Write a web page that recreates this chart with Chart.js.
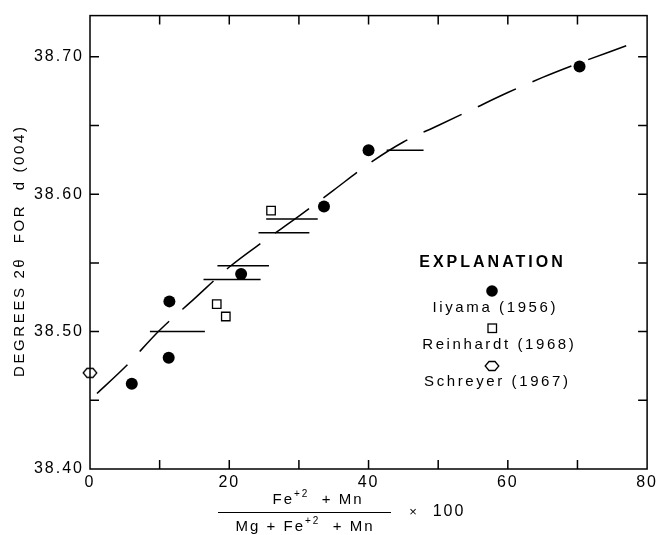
<!DOCTYPE html>
<html>
<head>
<meta charset="utf-8">
<script src="https://cdn.jsdelivr.net/npm/chart.js@4.4.1/dist/chart.umd.min.js"></script>
<style>
  html, body { margin: 0; padding: 0; background: #fff; }
</style>
</head>
<body>
<canvas id="chart" width="660" height="535"></canvas>
<script>
const FONT = "'Liberation Sans', Arial, Helvetica, sans-serif";

// Iiyama (1956) - filled circles
const iiyamaX = [6, 11.3, 11.4, 21.7, 33.6, 40, 70.3];
const iiyamaY = [38.462, 38.481, 38.522, 38.542, 38.591, 38.632, 38.693];
// Reinhardt (1968) - open squares
const reinX = [18.2, 19.5, 26];
const reinY = [38.520, 38.511, 38.588];
// Schreyer (1967) - open hexagon
const schrX = [0];
const schrY = [38.470];
// horizontal range bars
const barY = [38.500, 38.538, 38.548, 38.572, 38.582, 38.632];
const barXmin = [8.6, 16.3, 18.3, 24.2, 25.3, 42.6];
const barXmax = [16.5, 24.5, 25.7, 31.5, 32.7, 47.9];
// dashed curve
const curveX = [1, 5, 10, 15, 20, 25, 30, 35, 40, 45, 50, 55, 60, 65, 70, 77];
const curveY = [38.455, 38.474, 38.501, 38.524, 38.547, 38.566, 38.584, 38.603, 38.622, 38.638, 38.650, 38.662, 38.674, 38.685, 38.695, 38.708];
// labelled ticks
const xTicks = [0, 20, 40, 60, 80];
const yTicks = [38.40, 38.50, 38.60, 38.70];

const pts = (xs, ys) => xs.map((x, i) => ({ x, y: ys[i] }));

function hexImage() {
  const c = document.createElement('canvas');
  c.width = 16; c.height = 12;
  const g = c.getContext('2d');
  g.lineWidth = 1.3;
  g.strokeStyle = '#000';
  g.fillStyle = '#fff';
  g.beginPath();
  g.moveTo(1.2, 6);
  g.lineTo(5, 1.5);
  g.lineTo(11, 1.5);
  g.lineTo(14.8, 6);
  g.lineTo(11, 10.5);
  g.lineTo(5, 10.5);
  g.closePath();
  g.fill();
  g.stroke();
  return c;
}
const hex = hexImage();

// draw a run of text pieces, centred on cx
function drawParts(ctx, parts, cx, y, sp) {
  ctx.letterSpacing = sp + 'px';
  ctx.textAlign = 'left';
  ctx.textBaseline = 'middle';
  let total = 0;
  parts.forEach(p => {
    ctx.font = (p.bold ? 'bold ' : '') + p.size + 'px ' + FONT;
    p.w = ctx.measureText(p.t).width;
    total += p.w;
  });
  let x = cx - (total - sp) / 2;
  parts.forEach(p => {
    ctx.font = (p.bold ? 'bold ' : '') + p.size + 'px ' + FONT;
    ctx.fillText(p.t, x, y + (p.dy || 0));
    x += p.w;
  });
}

const framePlugin = {
  id: 'frame',
  beforeDraw(chart) {
    chart.ctx.letterSpacing = '2px';
  },
  afterDraw(chart) {
    const ctx = chart.ctx;
    const { left, right, top, bottom } = chart.chartArea;
    const xs = chart.scales.x, ys = chart.scales.y;
    ctx.save();
    ctx.strokeStyle = '#000';
    ctx.fillStyle = '#000';
    ctx.lineWidth = 1.5;
    ctx.strokeRect(left, top, right - left, bottom - top);

    // inward ticks
    const tl = 9;
    ctx.beginPath();
    xs.ticks.forEach(t => {
      const px = xs.getPixelForValue(t.value);
      if (px <= left + 1 || px >= right - 1) return;
      ctx.moveTo(px, bottom); ctx.lineTo(px, bottom - tl);
      ctx.moveTo(px, top); ctx.lineTo(px, top + tl);
    });
    ys.ticks.forEach(t => {
      const py = ys.getPixelForValue(t.value);
      if (py >= bottom - 1 || py <= top + 1) return;
      ctx.moveTo(left, py); ctx.lineTo(left + tl, py);
      ctx.moveTo(right, py); ctx.lineTo(right - tl, py);
    });
    ctx.stroke();

    // y axis title
    ctx.save();
    ctx.translate(20, 252);
    ctx.rotate(-Math.PI / 2);
    drawParts(ctx, [{ t: 'DEGREES 2θ  FOR  d (004)', size: 15 }], 0, 0, 2.6);
    ctx.restore();

    // x axis title (fraction)
    drawParts(ctx, [
      { t: 'Fe', size: 15 },
      { t: '+2', size: 10, dy: -6 },
      { t: '  + Mn', size: 15 }
    ], 317, 500, 2);
    ctx.lineWidth = 1;
    ctx.beginPath();
    ctx.moveTo(218, 512.5); ctx.lineTo(391, 512.5);
    ctx.stroke();
    drawParts(ctx, [
      { t: 'Mg + Fe', size: 15 },
      { t: '+2', size: 10, dy: -6 },
      { t: '  + Mn', size: 15 }
    ], 304, 527, 2);
    drawParts(ctx, [{ t: '×', size: 13 }], 413, 512, 0);
    drawParts(ctx, [{ t: '100', size: 16 }], 448, 512, 2);

    // explanation
    drawParts(ctx, [{ t: 'EXPLANATION', size: 16, bold: true }], 491, 263, 3);
    ctx.beginPath();
    ctx.arc(492, 291, 5.8, 0, Math.PI * 2);
    ctx.fill();
    drawParts(ctx, [{ t: 'Iiyama (1956)', size: 15 }], 494, 308, 2.6);
    ctx.lineWidth = 1.3;
    ctx.fillStyle = '#fff';
    ctx.fillRect(488, 324, 8.5, 8.5);
    ctx.strokeRect(488, 324, 8.5, 8.5);
    ctx.fillStyle = '#000';
    drawParts(ctx, [{ t: 'Reinhardt (1968)', size: 15 }], 498, 345, 2.6);
    ctx.drawImage(hex, 484, 360);
    drawParts(ctx, [{ t: 'Schreyer (1967)', size: 15 }], 496, 382, 2.6);

    ctx.letterSpacing = '0px';
    ctx.restore();
  }
};

const datasets = [
  {
    label: 'Iiyama (1956)',
    data: pts(iiyamaX, iiyamaY),
    pointStyle: 'circle',
    pointRadius: 6,
    backgroundColor: '#000',
    borderColor: '#000',
    borderWidth: 0,
    order: 0
  },
  {
    label: 'Reinhardt (1968)',
    data: pts(reinX, reinY),
    pointStyle: 'rect',
    pointRadius: 6,
    backgroundColor: '#fff',
    borderColor: '#000',
    borderWidth: 1.3,
    order: 0
  },
  {
    label: 'Schreyer (1967)',
    data: pts(schrX, schrY),
    pointStyle: hex,
    order: 0
  },
  ...barY.map((y, i) => ({
    type: 'line',
    label: 'range ' + i,
    data: [{ x: barXmin[i], y }, { x: barXmax[i], y }],
    showLine: true,
    borderColor: '#000',
    borderWidth: 1.5,
    pointRadius: 0,
    order: 1
  })),
  {
    type: 'line',
    label: 'curve',
    data: pts(curveX, curveY),
    showLine: true,
    borderColor: '#000',
    borderWidth: 1.5,
    borderDash: [42, 18],
    pointRadius: 0,
    cubicInterpolationMode: 'monotone',
    order: 2
  }
];

new Chart(document.getElementById('chart').getContext('2d'), {
  type: 'scatter',
  data: { datasets },
  options: {
    responsive: false,
    animation: false,
    clip: false,
    layout: { padding: { left: 0, top: 12, right: 10, bottom: 0 } },
    plugins: { legend: { display: false }, tooltip: { enabled: false } },
    scales: {
      x: {
        type: 'linear',
        min: 0,
        max: 80,
        afterFit: s => { s.height = 66; },
        grid: { display: false, drawTicks: false },
        border: { display: false },
        ticks: {
          stepSize: 10,
          autoSkip: false,
          maxRotation: 0,
          padding: 4,
          color: '#000',
          font: { family: FONT, size: 16 },
          callback: v => xTicks.includes(v) ? String(v) : ''
        }
      },
      y: {
        type: 'linear',
        min: 38.40,
        max: 38.73,
        afterFit: s => { s.width = 90; },
        grid: { display: false, drawTicks: false },
        border: { display: false },
        ticks: {
          stepSize: 0.05,
          includeBounds: false,
          autoSkip: false,
          padding: 6,
          color: '#000',
          font: { family: FONT, size: 16 },
          callback: v => {
            const t = yTicks.find(k => Math.abs(k - v) < 1e-6);
            return t === undefined ? '' : t.toFixed(2);
          }
        }
      }
    }
  },
  plugins: [framePlugin]
});
</script>
</body>
</html>
